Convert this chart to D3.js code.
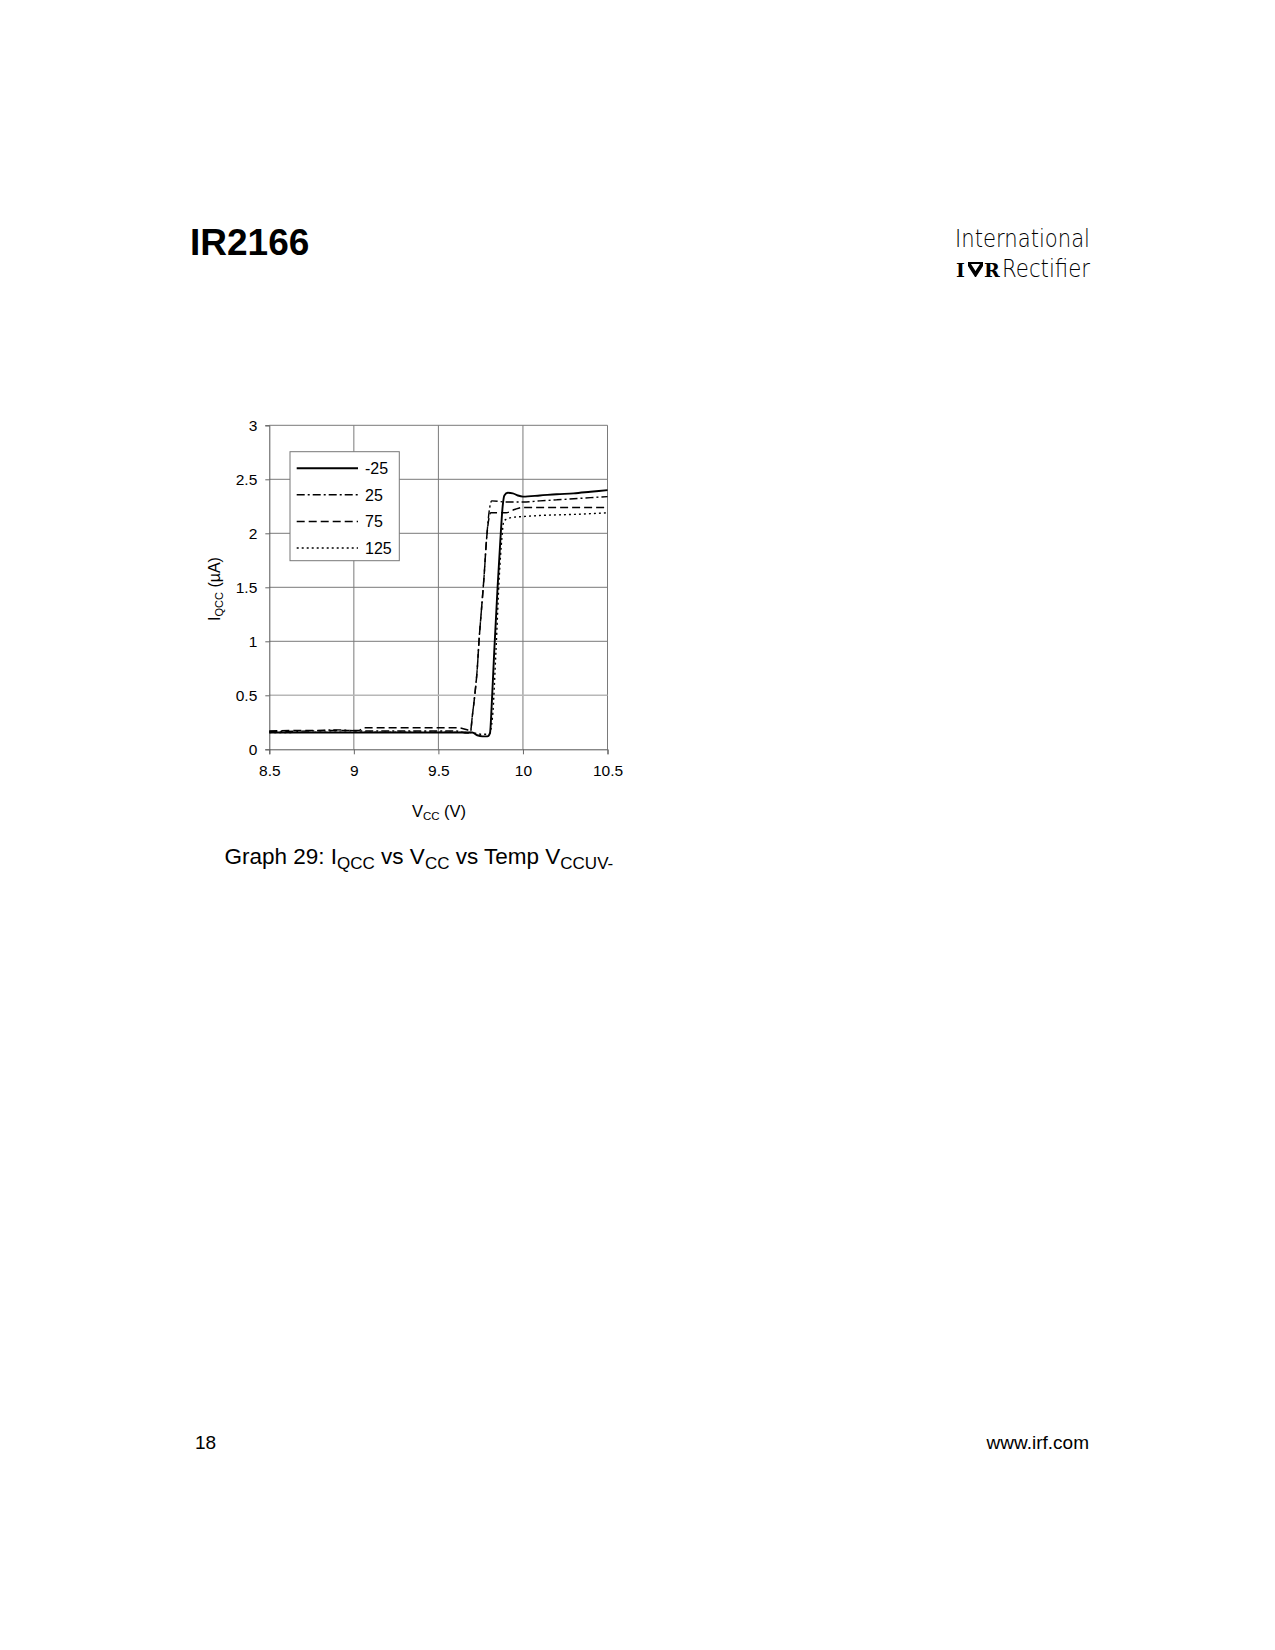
<!DOCTYPE html>
<html>
<head>
<meta charset="utf-8">
<script src="https://cdn.jsdelivr.net/npm/d3@7"></script>
<style>
  body { margin: 0; background: #fff; }
  svg { display: block; font-family: "Liberation Sans", Arial, sans-serif; }
</style>
</head>
<body>
<svg id="page" width="1275" height="1650"></svg>
<script>
// temperatures (°C) shown in the legend
const temps = ["-25", "25", "75", "125"];

// IQCC (uA) vs VCC (V)
const iqccM25 = [
  [8.5, 0.155], [9.0, 0.155], [9.5, 0.155], [9.70, 0.155], [9.73, 0.13], [9.76, 0.12],
  [9.79, 0.12], [9.805, 0.15], [9.815, 0.4], [9.83, 0.9], [9.85, 1.5], [9.865, 1.9],
  [9.88, 2.25], [9.89, 2.35], [9.91, 2.375], [9.94, 2.37], [9.97, 2.35], [10.0, 2.34],
  [10.1, 2.35], [10.2, 2.362], [10.3, 2.37], [10.4, 2.385], [10.5, 2.40],
];
const iqcc25 = [
  [8.5, 0.165], [8.75, 0.17], [8.9, 0.18], [9.05, 0.17], [9.4, 0.17], [9.6, 0.17],
  [9.67, 0.15], [9.69, 0.16], [9.70, 0.3], [9.715, 0.5], [9.73, 0.75], [9.74, 1.0],
  [9.755, 1.3], [9.77, 1.6], [9.785, 1.95], [9.80, 2.2], [9.815, 2.30], [9.9, 2.29],
  [10.0, 2.29], [10.1, 2.30], [10.2, 2.31], [10.3, 2.32], [10.4, 2.33], [10.5, 2.34],
];
const iqcc75 = [
  [8.5, 0.17], [8.75, 0.175], [9.03, 0.175], [9.06, 0.2], [9.3, 0.2], [9.61, 0.2],
  [9.68, 0.175], [9.69, 0.17], [9.70, 0.3], [9.715, 0.5], [9.73, 0.75], [9.74, 1.0],
  [9.755, 1.3], [9.77, 1.6], [9.785, 1.95], [9.80, 2.15], [9.81, 2.19], [9.9, 2.19],
  [9.95, 2.22], [10.0, 2.24], [10.25, 2.24], [10.5, 2.24],
];
const iqcc125 = [
  [8.5, 0.155], [9.0, 0.158], [9.5, 0.158], [9.70, 0.155], [9.75, 0.14], [9.80, 0.14],
  [9.82, 0.3], [9.84, 0.9], [9.86, 1.6], [9.875, 1.95], [9.885, 2.1], [9.90, 2.13],
  [9.95, 2.15], [10.0, 2.155], [10.1, 2.165], [10.3, 2.175], [10.5, 2.19],
];

const xTicks = [8.5, 9, 9.5, 10, 10.5];
const yTicks = [0, 0.5, 1, 1.5, 2, 2.5, 3];

const series = [
  { name: temps[0], values: iqccM25, dash: null, width: 1.9 },
  { name: temps[1], values: iqcc25, dash: "8,3,2,3", width: 1.4 },
  { name: temps[2], values: iqcc75, dash: "8,4", width: 1.5 },
  { name: temps[3], values: iqcc125, dash: "2,3", width: 1.4 },
];

const svg = d3.select("#page");

// page header
svg.append("text").attr("x", 190).attr("y", 255)
  .attr("font-size", 37).attr("font-weight", "bold").text("IR2166");

svg.append("text").attr("x", 955).attr("y", 247)
  .attr("font-family", "DejaVu Sans").attr("font-weight", 200).attr("font-size", 24)
  .attr("textLength", 135).attr("lengthAdjust", "spacingAndGlyphs").text("International");
svg.append("text").attr("x", 1002).attr("y", 277)
  .attr("font-family", "DejaVu Sans").attr("font-weight", 200).attr("font-size", 24)
  .attr("textLength", 88).attr("lengthAdjust", "spacingAndGlyphs").text("Rectifier");
const logo = svg.append("g").attr("font-family", "DejaVu Serif").attr("font-weight", "bold")
  .attr("font-size", 19);
logo.append("text").attr("x", 956).attr("y", 277).text("I");
logo.append("path")
  .attr("d", "M968,262 L983,262 L983,266 L976,277 L975,277 L968,266 Z M971,264 L975.5,271 L980,264 Z")
  .attr("fill", "#000").attr("fill-rule", "evenodd");
logo.append("text").attr("x", 984).attr("y", 277).text("R");

// chart
const x = d3.scaleLinear().domain([8.5, 10.5]).range([269.3, 607.5]);
const y = d3.scaleLinear().domain([0, 3]).range([749.3, 425.3]);

const grid = svg.append("g");
grid.selectAll("line.v").data(xTicks.slice(1)).join("line").attr("class", "v")
  .attr("x1", (d) => x(d)).attr("x2", (d) => x(d)).attr("y1", y(0)).attr("y2", y(3))
  .attr("stroke", "#7a7a7a").attr("stroke-width", 1);
grid.selectAll("line.h").data(yTicks.slice(1)).join("line").attr("class", "h")
  .attr("x1", x(8.5)).attr("x2", x(10.5)).attr("y1", (d) => y(d)).attr("y2", (d) => y(d))
  .attr("stroke", (d) => (d === 0.5 ? "#b8b8b8" : "#7a7a7a"))
  .attr("stroke-width", (d) => (d === 0.5 ? 1.6 : 1));

const xAxis = svg.append("g").attr("transform", `translate(0,${y(0)})`)
  .call(d3.axisBottom(x).tickValues(xTicks).tickSize(5).tickPadding(11).tickFormat(d3.format("")));
const yAxis = svg.append("g").attr("transform", `translate(${x(8.5)},0)`)
  .call(d3.axisLeft(y).tickValues(yTicks).tickSize(4).tickPadding(8).tickFormat(d3.format("")));
for (const ax of [xAxis, yAxis]) {
  ax.selectAll(".domain").attr("stroke", "#555");
  ax.selectAll(".tick line").attr("stroke", "#666");
  ax.selectAll("text").attr("font-size", 15.5).attr("fill", "#000")
    .attr("font-family", "Liberation Sans, Arial, sans-serif");
}

const line = d3.line().x((d) => x(d[0])).y((d) => y(d[1])).curve(d3.curveMonotoneX);
svg.append("g").selectAll("path").data(series).join("path")
  .attr("d", (d) => line(d.values))
  .attr("fill", "none").attr("stroke", "#000")
  .attr("stroke-width", (d) => d.width)
  .attr("stroke-dasharray", (d) => d.dash);

// legend
const legend = svg.append("g").attr("transform", "translate(290,451.7)");
legend.append("rect").attr("width", 109.3).attr("height", 109)
  .attr("fill", "#fff").attr("stroke", "#777").attr("stroke-width", 1);
const row = legend.selectAll("g").data(series).join("g")
  .attr("transform", (d, i) => `translate(0,${16.5 + i * 26.6})`);
row.append("line").attr("x1", 6.7).attr("x2", 68)
  .attr("stroke", "#000").attr("stroke-width", (d) => d.width)
  .attr("stroke-dasharray", (d) => d.dash);
row.append("text").attr("x", 75).attr("dy", "0.36em").attr("font-size", 16)
  .text((d) => d.name);

// axis titles
const yt = svg.append("text").attr("transform", "translate(220,589) rotate(-90)")
  .attr("text-anchor", "middle").attr("font-size", 16);
yt.append("tspan").text("I");
yt.append("tspan").attr("font-size", 11).attr("dy", 3).text("QCC");
yt.append("tspan").attr("dy", -3).text(" (\u00b5A)");

const xt = svg.append("text").attr("x", 439).attr("y", 817)
  .attr("text-anchor", "middle").attr("font-size", 16.5);
xt.append("tspan").text("V");
xt.append("tspan").attr("font-size", 11.5).attr("dy", 3).text("CC");
xt.append("tspan").attr("dy", -3).text(" (V)");

// caption
const cap = svg.append("text").attr("x", 224.5).attr("y", 864).attr("font-size", 22.5);
const parts = [["Graph 29: I", false], ["QCC", true], [" vs V", false], ["CC", true],
  [" vs Temp V", false], ["CCUV-", true]];
let sub = false;
for (const [t, s] of parts) {
  const ts = cap.append("tspan").text(t);
  if (s) ts.attr("font-size", 17).attr("dy", sub ? 0 : 4.5);
  else ts.attr("dy", sub ? -4.5 : 0);
  sub = s;
}

// footer
svg.append("text").attr("x", 195).attr("y", 1449).attr("font-size", 19).text("18");
svg.append("text").attr("x", 1089).attr("y", 1449).attr("font-size", 19)
  .attr("text-anchor", "end").text("www.irf.com");
</script>
</body>
</html>
